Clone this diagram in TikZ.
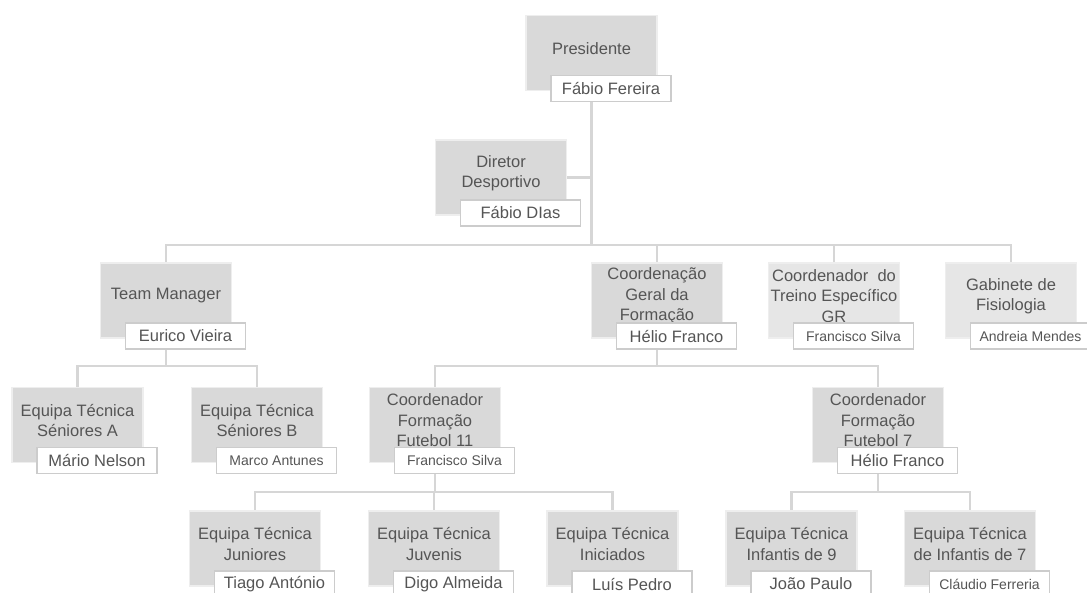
\documentclass[tikz,border=0pt]{standalone}
\usepackage{fontspec}
\setmainfont{Liberation Sans}
\usetikzlibrary{backgrounds}
\definecolor{boxgray}{HTML}{D9D9D9}
\definecolor{boxlight}{HTML}{E6E6E6}
\definecolor{boxedge}{HTML}{EEEEEE}
\definecolor{txtgray}{HTML}{555555}
\definecolor{linegray}{HTML}{D6D6D6}
\definecolor{namebord}{HTML}{CCCCCC}
\tikzset{
  role/.style={fill=boxgray, draw=boxedge, line width=1.5pt, minimum width=131pt, minimum height=75pt, inner sep=0pt},
  rolelight/.style={role, fill=boxlight},
  roletxt/.style={align=center, text=txtgray, inner sep=0pt, font=\fontsize{16.5}{20.5}\selectfont},
  person/.style={fill=white, draw=namebord, line width=1.4pt, minimum width=120pt, minimum height=26pt, inner sep=0pt, text=txtgray, font=\fontsize{16.5}{19}\selectfont},
  personsmall/.style={person, font=\fontsize{14}{17}\selectfont},
  conn/.style={draw=linegray, line width=2.5pt}
}
% #1 id, #2 position, #3 box style, #4 role text, #5 person style, #6 person text
\newcommand\orgunit[6]{%
  \node[#3] (#1) at (#2) {};
  \node[roletxt] (#1-t) at ([yshift=4.5pt]#1.center) {#4};
  \node[#5] (#1-n) at ([shift={(19.5,35.5)}]#1.center) {#6};
}
\begin{document}
\begin{tikzpicture}[x=1pt,y=-1pt]
\useasboundingbox (0,0) rectangle (1087,592);
\clip (0,0) rectangle (1087,592);

\orgunit{pres}{591.5,53}{role}{Presidente}{person}{Fábio Fereira}
\orgunit{dd}{501,177.5}{role}{Diretor\\Desportivo}{person}{Fábio DIas}
\orgunit{tm}{166,300.5}{role}{Team Manager}{person}{Eurico Vieira}
\orgunit{cg}{657,300.5}{role}{Coordenação\\Geral da\\Formação}{person}{Hélio Franco}
\orgunit{ct}{834,300.5}{rolelight}{Coordenador\ \ do\\Treino Específico\\GR}{personsmall}{Francisco Silva}
\orgunit{gf}{1011,300.5}{rolelight}{Gabinete de\\Fisiologia}{personsmall}{Andreia Mendes}
\orgunit{sa}{77.5,425}{role}{Equipa Técnica\\Séniores A}{person}{Mário Nelson}
\orgunit{sb}{257,425}{role}{Equipa Técnica\\Séniores B}{personsmall}{Marco Antunes}
\orgunit{fa}{435,425}{role}{Coordenador\\Formação\\Futebol 11}{personsmall}{Francisco Silva}
\orgunit{fb}{878,425}{role}{Coordenador\\Formação\\Futebol 7}{person}{Hélio Franco}
\orgunit{jun}{255,548.5}{role}{Equipa Técnica\\Juniores}{person}{Tiago António}
\orgunit{juv}{434,548.5}{role}{Equipa Técnica\\Juvenis}{person}{Digo Almeida}
\orgunit{ini}{612.5,548.5}{role}{Equipa Técnica\\Iniciados}{person}{Luís Pedro}
\orgunit{inf}{791.5,548.5}{role}{Equipa Técnica\\Infantis de 9}{person}{João Paulo}
\orgunit{ins}{970,548.5}{role}{Equipa Técnica\\de Infantis de 7}{personsmall}{Cláudio Ferreria}

\coordinate (b0) at (0,245);
\coordinate (b1) at (0,366);
\coordinate (b2) at (0,492);

\begin{scope}[on background layer]
  \fill[white] (0,0) rectangle (1087,592);
  \draw[conn] (dd.east) -- (dd.east -| pres.south);
  \foreach \c in {tm,cg,ct,gf}
    \draw[conn] (pres.south) |- (\c.north |- b0) -- (\c.north);
  \foreach \c in {sa,sb}
    \draw[conn] (tm.south) |- (\c.north |- b1) -- (\c.north);
  \foreach \c in {fa,fb}
    \draw[conn] (cg.south) |- (\c.north |- b1) -- (\c.north);
  \foreach \c in {jun,juv,ini}
    \draw[conn] (fa.south) |- (\c.north |- b2) -- (\c.north);
  \foreach \c in {inf,ins}
    \draw[conn] (fb.south) |- (\c.north |- b2) -- (\c.north);
\end{scope}
\end{tikzpicture}
\end{document}
